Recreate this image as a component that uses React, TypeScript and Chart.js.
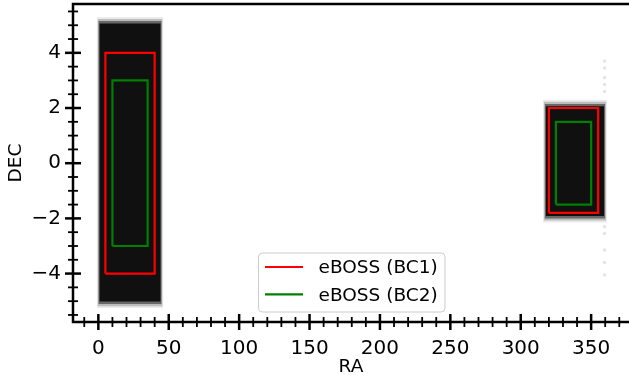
import React, { useEffect, useRef } from "react";
import { Chart, registerables } from "chart.js";
Chart.register(...registerables);

// ---- data ----
const leftFieldRA = [0, 45];
const leftFieldDEC = [-5.1, 5.15];
const rightFieldRA = [317, 360];
const rightFieldDEC = [-2.0, 2.15];
const strayRA = [359.5, 359.5, 359.5, 359.5, 359.5, 359.5, 359.5, 359.5, 359.5, 359.5];
const strayDEC = [3.7, 3.45, 3.1, 2.85, 2.6, -2.3, -2.55, -3.15, -3.6, -4.05];
const bc1LeftRA = [5, 5, 40, 40, 5];
const bc1LeftDEC = [-4, 4, 4, -4, -4];
const bc1RightRA = [320, 320, 355, 355, 320];
const bc1RightDEC = [-1.8, 2, 2, -1.8, -1.8];
const bc2LeftRA = [10, 10, 35, 35, 10];
const bc2LeftDEC = [-3, 3, 3, -3, -3];
const bc2RightRA = [325, 325, 350, 350, 325];
const bc2RightDEC = [-1.5, 1.5, 1.5, -1.5, -1.5];
const legendLabels = ["eBOSS (BC1)", "eBOSS (BC2)"];
const raRange = [-18, 376.9];
const decRange = [-5.755, 5.77];
const raMajorStep = 50;
const raMinorStep = 10;
const decMajorStep = 2;
const decMinorStep = 0.5;

// ---- style ----
const FONT = "'DejaVu Sans', sans-serif";
const FUZZ = [
  { dra: 1.2, ddec: 0.15, alpha: 0.08 },
  { dra: 0.6, ddec: 0.08, alpha: 0.2 },
  { dra: 0, ddec: 0, alpha: 0.45 },
  { dra: -0.7, ddec: -0.09, alpha: 0.85 },
];

const pts = (xs: number[], ys: number[]) => xs.map((x, i) => ({ x, y: ys[i] }));

function fieldLayers(ra: number[], dec: number[]) {
  return FUZZ.map((f) => ({
    data: [
      { x: ra[0] - f.dra, y: dec[1] + f.ddec },
      { x: ra[1] + f.dra, y: dec[1] + f.ddec },
    ],
    showLine: true,
    fill: { value: dec[0] - f.ddec },
    backgroundColor: `rgba(0,0,0,${f.alpha})`,
    borderColor: "rgba(0,0,0,0)",
    borderWidth: 0,
    pointRadius: 0,
    order: 10,
  }));
}

function rectDs(xs: number[], ys: number[], color: string) {
  return {
    data: pts(xs, ys),
    showLine: true,
    fill: false,
    borderColor: color,
    borderWidth: 2.2,
    pointRadius: 0,
    order: 0,
  };
}

const zeroPad = (s: any) => {
  s.paddingTop = 0;
  s.paddingBottom = 0;
  s.paddingLeft = 0;
  s.paddingRight = 0;
};

const axesPlugin = {
  id: "mplAxes",
  afterDraw(chart: any) {
    const { ctx, chartArea: a, scales } = chart;
    const x = scales.x;
    const y = scales.y;
    ctx.save();
    ctx.strokeStyle = "#000";
    ctx.lineCap = "butt";
    ctx.lineWidth = 2.5;
    ctx.beginPath();
    ctx.moveTo(a.left, a.top);
    ctx.lineTo(a.right, a.top);
    ctx.moveTo(a.left, a.top - 1.25);
    ctx.lineTo(a.left, a.bottom + 1.25);
    ctx.moveTo(a.left - 1.25, a.bottom);
    ctx.lineTo(a.right, a.bottom);
    ctx.stroke();
    const kx0 = Math.ceil(raRange[0] / raMinorStep);
    const kx1 = Math.floor(raRange[1] / raMinorStep);
    const rxRatio = Math.round(raMajorStep / raMinorStep);
    for (let k = kx0; k <= kx1; k++) {
      const px = x.getPixelForValue(k * raMinorStep);
      const major = k % rxRatio === 0;
      const len = major ? 8 : 5;
      ctx.lineWidth = major ? 2.5 : 1.8;
      ctx.beginPath();
      ctx.moveTo(px, a.bottom - len);
      ctx.lineTo(px, a.bottom + len);
      ctx.stroke();
    }
    const ky0 = Math.ceil(decRange[0] / decMinorStep);
    const ky1 = Math.floor(decRange[1] / decMinorStep);
    const ryRatio = Math.round(decMajorStep / decMinorStep);
    for (let k = ky0; k <= ky1; k++) {
      const py = y.getPixelForValue(k * decMinorStep);
      const major = k % ryRatio === 0;
      const len = major ? 8 : 5;
      ctx.lineWidth = major ? 2.5 : 1.8;
      ctx.beginPath();
      ctx.moveTo(a.left - len, py);
      ctx.lineTo(a.left + len, py);
      ctx.stroke();
    }
    ctx.restore();
  },
};

const legendPlugin = {
  id: "mplLegend",
  afterDraw(chart: any) {
    const { ctx, chartArea: a, scales } = chart;
    const fullRight = scales.x.getPixelForValue(378);
    const cx = (a.left + fullRight) / 2;
    const w = 186.5;
    const h = 59;
    const left = cx - w / 2;
    const top = a.bottom - 10 - h;
    ctx.save();
    ctx.fillStyle = "rgba(255,255,255,0.85)";
    ctx.strokeStyle = "#cccccc";
    ctx.lineWidth = 1;
    const r = 4;
    ctx.beginPath();
    ctx.moveTo(left + r, top);
    ctx.lineTo(left + w - r, top);
    ctx.arcTo(left + w, top, left + w, top + r, r);
    ctx.lineTo(left + w, top + h - r);
    ctx.arcTo(left + w, top + h, left + w - r, top + h, r);
    ctx.lineTo(left + r, top + h);
    ctx.arcTo(left, top + h, left, top + h - r, r);
    ctx.lineTo(left, top + r);
    ctx.arcTo(left, top, left + r, top, r);
    ctx.closePath();
    ctx.fill();
    ctx.stroke();
    const colors = ["#ff0000", "#008000"];
    ctx.font = `18.5px ${FONT}`;
    ctx.textBaseline = "middle";
    ctx.fillStyle = "#000";
    legendLabels.forEach((lab, i) => {
      const yy = top + 14 + i * 27.3;
      ctx.strokeStyle = colors[i];
      ctx.lineWidth = 2.2;
      ctx.beginPath();
      ctx.moveTo(left + 6.5, yy);
      ctx.lineTo(left + 44.5, yy);
      ctx.stroke();
      ctx.fillText(lab, left + 60, yy + 1.5);
    });
    ctx.restore();
  },
};

const fmt = (v: any) => String(v).replace("-", "\u2212");

export default function App() {
  const ref = useRef<HTMLCanvasElement | null>(null);
  useEffect(() => {
    document.body.style.margin = "0";
    const canvas = ref.current!;
    const datasets: any[] = [
      rectDs(bc1LeftRA, bc1LeftDEC, "#ff0000"),
      rectDs(bc1RightRA, bc1RightDEC, "#ff0000"),
      rectDs(bc2LeftRA, bc2LeftDEC, "#008000"),
      rectDs(bc2RightRA, bc2RightDEC, "#008000"),
      {
        data: pts(strayRA, strayDEC),
        pointRadius: 1.8,
        backgroundColor: "rgba(0,0,0,0.1)",
        borderWidth: 0,
        order: 5,
      },
      ...fieldLayers(leftFieldRA, leftFieldDEC),
      ...fieldLayers(rightFieldRA, rightFieldDEC),
    ];
    const chart = new Chart(canvas, {
      type: "scatter",
      data: { datasets },
      plugins: [axesPlugin, legendPlugin],
      options: {
        animation: false,
        responsive: false,
        maintainAspectRatio: false,
        layout: { autoPadding: false, padding: { top: 4, left: 0, right: 0, bottom: 0 } },
        plugins: { legend: { display: false }, tooltip: { enabled: false } },
        scales: {
          x: {
            type: "linear",
            min: raRange[0],
            max: raRange[1],
            afterFit: (s: any) => {
              s.height = 57;
              zeroPad(s);
            },
            border: { display: false },
            grid: { drawOnChartArea: false, color: "rgba(0,0,0,0)", tickLength: 8 },
            ticks: {
              stepSize: raMajorStep,
              includeBounds: false,
              color: "#000",
              font: { family: FONT, size: 20 },
              padding: 7,
              maxRotation: 0,
              callback: fmt,
            },
            title: {
              display: true,
              text: "RA",
              color: "#000",
              font: { family: FONT, size: 18.5 },
              padding: { top: 0, bottom: 1 },
            },
          },
          y: {
            type: "linear",
            min: decRange[0],
            max: decRange[1],
            afterFit: (s: any) => {
              s.width = 73;
              zeroPad(s);
            },
            border: { display: false },
            grid: { drawOnChartArea: false, color: "rgba(0,0,0,0)", tickLength: 8 },
            ticks: {
              stepSize: decMajorStep,
              includeBounds: false,
              color: "#000",
              font: { family: FONT, size: 20 },
              padding: 4,
              callback: fmt,
            },
            title: {
              display: true,
              text: "DEC",
              color: "#000",
              font: { family: FONT, size: 18.5 },
              padding: { top: 5.5, bottom: 0 },
            },
          },
        },
      } as any,
    });
    return () => chart.destroy();
  }, []);
  return <canvas ref={ref} width={629} height={379} style={{ display: "block" }} />;
}
